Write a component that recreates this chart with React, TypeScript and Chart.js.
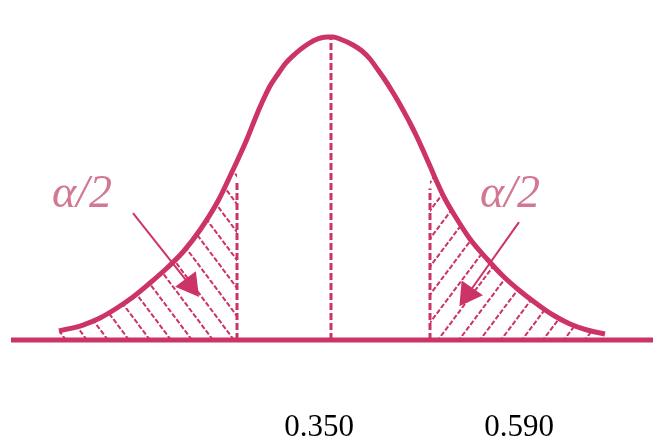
import React, { useEffect, useRef } from 'react';
import { Chart, registerables } from 'chart.js';

Chart.register(...registerables);

// Curve (x in value units, y as density relative to the peak)
const curveX = [
  0.038, 0.0668, 0.0872, 0.1076, 0.1268, 0.1472, 0.1676, 0.1868, 0.2072, 0.2288,
  0.2456, 0.254, 0.2636, 0.2732, 0.2792, 0.2852, 0.2912, 0.3008, 0.3092, 0.3212,
  0.3332, 0.3452, 0.3596, 0.3668, 0.3752, 0.3908, 0.4016, 0.4112, 0.4208, 0.4292,
  0.4376, 0.4448, 0.4508, 0.4592, 0.4664, 0.4736, 0.4832, 0.4904, 0.5012, 0.5132,
  0.5312, 0.5516, 0.5708, 0.5912, 0.6116, 0.6308, 0.6512, 0.6716, 0.6932,
];
const curveY = [
  0.0297, 0.0495, 0.0726, 0.1056, 0.1419, 0.1881, 0.2376, 0.2904, 0.363, 0.4587,
  0.5545, 0.604, 0.6634, 0.7294, 0.769, 0.8053, 0.8383, 0.8779, 0.9109, 0.9439,
  0.9703, 0.9901, 1.0, 1.0, 0.9934, 0.9736, 0.9538, 0.9274, 0.8911, 0.8581,
  0.8218, 0.7888, 0.7591, 0.7162, 0.6766, 0.6337, 0.5743, 0.5281, 0.4653, 0.4092,
  0.3333, 0.2673, 0.2112, 0.1617, 0.1188, 0.0825, 0.0528, 0.033, 0.0198,
];

const tickValues = [0.35, 0.59];
const xRange = [-0.0328, 0.7508];
const yRange = [-0.2442, 1.1221];
const baselineX = [-0.0196, 0.7508];

// dashed verticals: left cut, centre, right cut
const cutX = [0.2516, 0.3644, 0.4832];
const cutTopY = [0.528, 1.0, 0.5];
// curve height at the two cuts
const tailEdgeY = [0.591, 0.5743];

// arrows (start, head)
const arrowLeftX = [0.1268, 0.1952];
const arrowLeftY = [0.419, 0.1815];
const arrowRightX = [0.59, 0.5288];
const arrowRightY = [0.389, 0.1518];
const arrowAngles = [143, 215];

const labelText = 'α/2';
const labelX = [0.0296, 0.5432];
const labelY = 0.439;

const COLOR = '#cc3366';
const LABEL_COLOR = '#d27892';

function makeHatch(dir: number): CanvasPattern {
  const w = 21;
  const h = 28;
  const c = document.createElement('canvas');
  c.width = w;
  c.height = h;
  const g = c.getContext('2d') as CanvasRenderingContext2D;
  g.strokeStyle = COLOR;
  g.lineWidth = 2;
  g.setLineDash([5, 2]);
  for (const off of [-w, 0, w]) {
    g.beginPath();
    if (dir > 0) {
      g.moveTo(off, 0);
      g.lineTo(off + w, h);
    } else {
      g.moveTo(off, h);
      g.lineTo(off + w, 0);
    }
    g.stroke();
  }
  return g.createPattern(c, 'repeat') as CanvasPattern;
}

const pts = (xs: number[], ys: number[]) => xs.map((x, i) => ({ x, y: ys[i] }));

export default function App() {
  const ref = useRef<HTMLCanvasElement | null>(null);

  useEffect(() => {
    if (!ref.current) return;
    const curve = pts(curveX, curveY);
    const leftTail = [...curve.filter((p) => p.x < cutX[0]), { x: cutX[0], y: tailEdgeY[0] }];
    const rightTail = [{ x: cutX[2], y: tailEdgeY[1] }, ...curve.filter((p) => p.x > cutX[2])];

    const labelPlugin = {
      id: 'alphaLabels',
      afterDatasetsDraw(chart: any) {
        const { ctx, scales } = chart;
        ctx.save();
        ctx.font = "italic 46px 'Liberation Serif', 'Times New Roman', serif";
        ctx.fillStyle = LABEL_COLOR;
        ctx.textAlign = 'left';
        ctx.textBaseline = 'alphabetic';
        labelX.forEach((lx) => {
          ctx.fillText(labelText, scales.x.getPixelForValue(lx), scales.y.getPixelForValue(labelY));
        });
        ctx.restore();
      },
    };

    const line = (data: any[], extra: any = {}) => ({
      data,
      borderColor: COLOR,
      backgroundColor: COLOR,
      pointRadius: 0,
      fill: false,
      tension: 0,
      ...extra,
    });

    const chart = new Chart(ref.current, {
      type: 'line',
      data: {
        datasets: [
          line(leftTail, {
            fill: 'origin',
            backgroundColor: makeHatch(1),
            borderWidth: 0,
            cubicInterpolationMode: 'monotone',
          }),
          line(rightTail, {
            fill: 'origin',
            backgroundColor: makeHatch(-1),
            borderWidth: 0,
            cubicInterpolationMode: 'monotone',
          }),
          ...cutX.map((cx, i) =>
            line(
              [
                { x: cx, y: 0 },
                { x: cx, y: cutTopY[i] },
              ],
              { borderWidth: 3, borderDash: [7, 3] }
            )
          ),
          line(curve, { borderWidth: 5, cubicInterpolationMode: 'monotone' }),
          line(
            [
              { x: baselineX[0], y: 0 },
              { x: baselineX[1], y: 0 },
            ],
            { borderWidth: 5 }
          ),
          line(pts(arrowLeftX, arrowLeftY), {
            borderWidth: 2,
            pointStyle: 'triangle',
            pointRadius: [0, 13],
            pointRotation: [0, arrowAngles[0]],
            pointBackgroundColor: COLOR,
            pointBorderColor: COLOR,
          }),
          line(pts(arrowRightX, arrowRightY), {
            borderWidth: 2,
            pointStyle: 'triangle',
            pointRadius: [0, 13],
            pointRotation: [0, arrowAngles[1]],
            pointBackgroundColor: COLOR,
            pointBorderColor: COLOR,
          }),
        ],
      },
      options: {
        animation: false,
        responsive: false,
        devicePixelRatio: 1,
        events: [],
        layout: { padding: 0, autoPadding: false },
        plugins: { legend: { display: false }, tooltip: { enabled: false } },
        scales: {
          x: {
            type: 'linear',
            position: 'bottom',
            min: xRange[0],
            max: xRange[1],
            grid: { display: false, drawTicks: false },
            border: { display: false },
            ticks: {
              autoSkip: false,
              maxRotation: 0,
              padding: 0,
              color: '#000',
              font: { family: "'Liberation Serif', 'Times New Roman', serif", size: 31, lineHeight: 0.9 },
              callback: (v: any) => Number(v).toFixed(3),
            },
            afterBuildTicks: (s: any) => {
              s.ticks = tickValues.map((v) => ({ value: v }));
            },
            afterFit: (s: any) => {
              s.height = 25;
            },
          },
          y: { type: 'linear', display: false, min: yRange[0], max: yRange[1] },
        },
      } as any,
      plugins: [labelPlugin],
    });
    return () => chart.destroy();
  }, []);

  return (
    <div style={{ position: 'fixed', left: 0, top: 0, width: 653, height: 439, background: '#fff' }}>
      <canvas ref={ref} width={653} height={439} style={{ display: 'block' }} />
    </div>
  );
}
